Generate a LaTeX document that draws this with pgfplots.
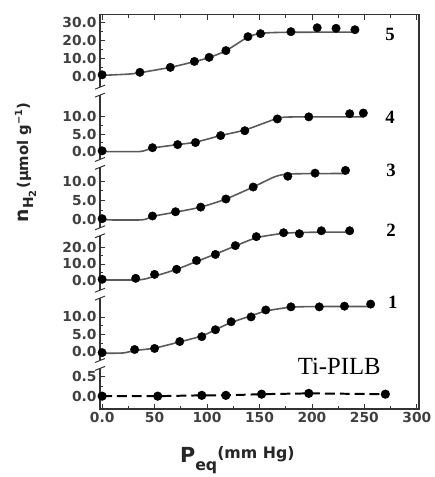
\documentclass[border=0pt]{standalone}
\usepackage{fontspec}
\setmainfont{Liberation Serif}
\setsansfont{DejaVu Sans}
\usepackage{pgfplots}
\pgfplotsset{compat=1.18}
\pgfplotsset{
  fitline/.style={black!65, line width=1.6bp, smooth, tension=0.4, no markers},
  pts/.style={only marks, mark=*, mark size=4.3pt, mark options={fill=black, draw=black}},
}
\begin{document}
\begin{tikzpicture}
\begin{axis}[
  scale only axis, width=322bp, height=398bp,
  xmin=-2, xmax=302, ymin=0, ymax=398, clip=false,
  axis line style={black!80, line width=1.2bp},
  xtick={0,50,...,300}, xticklabels={0.0,50,100,150,200,250,300},
  minor x tick num=1,
  ytick={13,33,58,75.5,93,130,146.5,163,191,210.5,230,260,277.5,295,336,354,372,390},
  yticklabels={0.0,0.5,0.0,5.0,10.0,0.0,10.0,20.0,0.0,5.0,10.0,0.0,5.0,10.0,0.0,10.0,20.0,30.0},
  minor ytick={23,66.75,84.25,138.25,154.75,200.75,220.25,268.75,286.25,345,363,381},
  ytick pos=left,
  tick style={black!80, line width=0.8bp},
  major tick length=5bp, minor tick length=3bp,
  tick label style={font=\sffamily\bfseries\fontsize{14}{14}\selectfont, text=black!75},
]
% ---- panel 5 ----
\addplot[fitline] table[y expr=336+1.8*\thisrow{y}, row sep=\\] {x y\\ 0 0.5\\ 25 1.2\\ 36 2\\ 65 5\\ 88 8.2\\ 102 10.5\\ 118 14.3\\ 139 22\\ 151 24\\ 170 24.6\\ 241 24.8\\};
\addplot[pts] table[y expr=336+1.8*\thisrow{y}, row sep=\\] {x y\\ 0 0.8\\ 36 2.2\\ 65 5.0\\ 88 8.3\\ 102 10.6\\ 118 14.4\\ 139 22.2\\ 151 23.9\\ 180 25.0\\ 205 27.2\\ 223 26.9\\ 241 26.1\\};
% ---- panel 4 ----
\addplot[fitline] table[y expr=260+3.5*\thisrow{y}, row sep=\\] {x y\\ 0 0\\ 36 0\\ 48 1\\ 72 2\\ 89 2.7\\ 113 4.6\\ 136 6.2\\ 158 8.6\\ 170 9.8\\ 190 10\\ 250 10\\};
\addplot[pts] table[y expr=260+3.5*\thisrow{y}, row sep=\\] {x y\\ 0 0.2\\ 48 1.1\\ 72 2.0\\ 89 2.6\\ 113 4.6\\ 136 6.0\\ 167 9.4\\ 197 10.0\\ 236 10.9\\ 249 11.1\\};
% ---- panel 3 ----
\addplot[fitline] table[y expr=191+3.9*\thisrow{y}, row sep=\\] {x y\\ 0 0\\ 38 0\\ 48 0.9\\ 70 2\\ 94 3.3\\ 118 5.4\\ 144 8.5\\ 165 11.2\\ 180 11.9\\ 232 12\\};
\addplot[pts] table[y expr=191+3.9*\thisrow{y}, row sep=\\] {x y\\ 0 0.3\\ 48 1.0\\ 70 2.1\\ 94 3.3\\ 118 5.4\\ 144 8.5\\ 177 11.3\\ 203 12.1\\ 232 12.8\\};
% ---- panel 2 ----
\addplot[fitline] table[y expr=130+1.65*\thisrow{y}, row sep=\\] {x y\\ 0 0.2\\ 36 0.3\\ 50 2.5\\ 71 6.7\\ 90 11.5\\ 108 16\\ 127 21\\ 147 26\\ 170 28.5\\ 190 29.3\\ 236 29.5\\};
\addplot[pts] table[y expr=130+1.65*\thisrow{y}, row sep=\\] {x y\\ 0 0.6\\ 32 1.2\\ 50 3.6\\ 71 6.7\\ 90 12.1\\ 108 15.8\\ 127 21.2\\ 147 26.7\\ 173 29.1\\ 188 28.5\\ 209 30.3\\ 236 30.3\\};
% ---- panel 1 ----
\addplot[fitline] table[y expr=58+3.5*\thisrow{y}, row sep=\\] {x y\\ 0 -0.5\\ 20 -0.4\\ 31 0.3\\ 50 1\\ 74 2.8\\ 95 4.5\\ 108 6.3\\ 123 8.4\\ 142 10.3\\ 156 11.7\\ 180 12.8\\ 207 13\\ 256 13\\};
\addplot[pts] table[y expr=58+3.5*\thisrow{y}, row sep=\\] {x y\\ 0 -0.3\\ 31 0.6\\ 50 0.9\\ 74 2.9\\ 95 4.3\\ 108 6.3\\ 123 8.6\\ 142 10.0\\ 156 12.0\\ 180 12.9\\ 207 12.9\\ 231 13.1\\ 256 13.7\\};
% ---- Ti-PILB ----
\addplot[black, line width=2bp, dash pattern=on 10bp off 5bp, mark=*, mark size=3.6pt, mark options={solid, fill=black}] table[y expr=13+40*\thisrow{y}, row sep=\\] {x y\\ 0 0\\ 53 0\\ 95 0.02\\ 118 0.02\\ 152 0.05\\ 197 0.07\\ 270 0.05\\};
% labels
\node[font=\rmfamily\bfseries\fontsize{19}{19}\selectfont] at (axis cs:274.5,378) {5};
\node[font=\rmfamily\bfseries\fontsize{19}{19}\selectfont] at (axis cs:274.5,295) {4};
\node[font=\rmfamily\bfseries\fontsize{19}{19}\selectfont] at (axis cs:275.5,241) {3};
\node[font=\rmfamily\bfseries\fontsize{19}{19}\selectfont] at (axis cs:275.5,180) {2};
\node[font=\rmfamily\bfseries\fontsize{19}{19}\selectfont] at (axis cs:277,108) {1};
\node[font=\rmfamily\fontsize{25}{25}\selectfont] at (axis cs:226,43) {Ti-PILB};
\node[anchor=base west, font=\sffamily\bfseries, text=black!85] at (axis cs:71,-54)
  {{\fontsize{21}{21}\selectfont P}\raisebox{-8bp}{\fontsize{16}{16}\selectfont eq}\raisebox{4bp}{\fontsize{16}{16}\selectfont(mm Hg)}};
\node[rotate=90, font=\sffamily\bfseries, text=black!85] at (axis cs:-73,249)
  {{\fontsize{19}{19}\selectfont n}\raisebox{-5bp}{\fontsize{14}{14}\selectfont H\raisebox{-3bp}{\fontsize{10}{10}\selectfont 2}}\,{\fontsize{15}{15}\selectfont(μmol g\raisebox{6bp}{\fontsize{10}{10}\selectfont −1})}};
\coordinate (b1) at (axis cs:-2,321);
\coordinate (b2) at (axis cs:-2,248);
\coordinate (b3) at (axis cs:-2,179);
\coordinate (b4) at (axis cs:-2,116);
\coordinate (b5) at (axis cs:-2,45);
\coordinate (bl) at (rel axis cs:0,0);
\coordinate (tr) at (rel axis cs:1,1);
\end{axis}
\foreach \b in {b1,b2,b3,b4,b5}{
  \fill[white] (\b) ++(-3bp,-4bp) rectangle ++(6bp,8bp);
  \draw[black!80, line width=1bp] (\b) ++(-5bp,-6bp) -- ++(10bp,4bp);
  \draw[black!80, line width=1bp] (\b) ++(-5bp,2bp) -- ++(10bp,4bp);
}
\path (bl) +(-101bp,-64bp) (tr) +(12bp,15bp);
\end{tikzpicture}
\end{document}
